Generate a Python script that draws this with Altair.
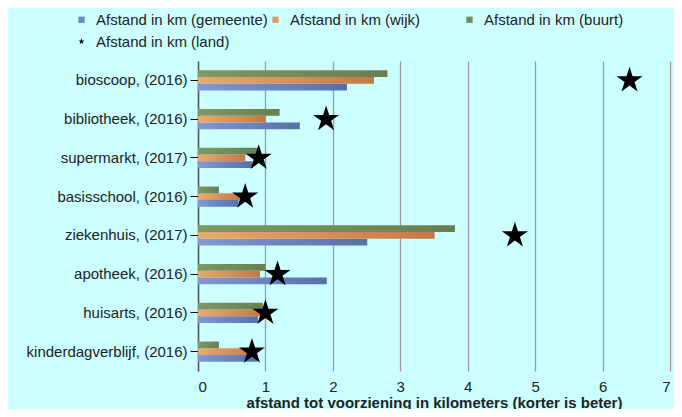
import altair as alt
import pandas as pd

categories = ["bioscoop, (2016)", "bibliotheek, (2016)", "supermarkt, (2017)",
              "basisschool, (2016)", "ziekenhuis, (2017)", "apotheek, (2016)",
              "huisarts, (2016)", "kinderdagverblijf, (2016)"]
gemeente = [2.21, 1.51, 0.81, 0.60, 2.51, 1.91, 0.89, 0.88]
wijk = [2.61, 1.00, 0.70, 0.62, 3.51, 0.92, 0.92, 0.88]
buurt = [2.81, 1.21, 0.89, 0.31, 3.81, 1.00, 0.96, 0.31]
land = [6.40, 1.90, 0.90, 0.70, 4.70, 1.18, 1.00, 0.80]

series = ["Afstand in km (gemeente)", "Afstand in km (wijk)",
          "Afstand in km (buurt)", "Afstand in km (land)"]
flat_colors = ["#6f86c2", "#dc9a5e", "#758d5c", "#000000"]
x_ticks = [0, 1, 2, 3, 4, 5, 6, 7]

rows = []
for name, vals in zip(series, [gemeente, wijk, buurt, land]):
    for c, v in zip(categories, vals):
        rows.append({"cat": c, "series": name, "value": v})
df = pd.DataFrame(rows)

STAR = ("M0,-1L0.2245,-0.309L0.951,-0.309L0.363,0.118L0.588,0.809L0,0.382"
        "L-0.588,0.809L-0.363,0.118L-0.951,-0.309L-0.2245,-0.309Z")

FONT = "Liberation Sans"

y_enc = alt.Y("cat:N", sort=categories,
              scale=alt.Scale(paddingInner=0.48, paddingOuter=0.24),
              axis=alt.Axis(title=None, labelFontSize=15, labelColor="#222222",
                            labelFont=FONT, tickColor="#111111", tickSize=8,
                            domainColor="#555555", domainWidth=1.5, grid=False,
                            labelPadding=3))
x_enc = alt.X("value:Q", scale=alt.Scale(domain=[0, 7], nice=False),
              axis=alt.Axis(values=x_ticks, grid=True, gridColor="#9a9a9a",
                            gridWidth=1.3, domain=False, ticks=False,
                            labelFontSize=15, labelColor="#222222", labelFont=FONT,
                            labelPadding=8,
                            title="afstand tot voorziening in kilometers (korter is beter)",
                            titleFont=FONT, titleFontSize=15,
                            titleFontWeight="bold", titleColor="#222222",
                            titlePadding=1))
yoff_enc = alt.YOffset("series:N",
                       scale=alt.Scale(domain=[series[2], series[1], series[0]]))


def grad(c1, c2):
    return {"gradient": "linear", "x1": 0, "x2": 1, "y1": 0, "y2": 0,
            "stops": [{"offset": 0, "color": c1}, {"offset": 1, "color": c2}]}


grads = [grad("#8298d2", "#5670a8"), grad("#e6ab6c", "#c67846"),
         grad("#7e9866", "#697e50")]

base = alt.Chart(df)
bar_layers = []
for s, g in zip(series[:3], grads):
    bar_layers.append(
        base.transform_filter(alt.datum.series == s)
        .mark_bar(color=g, height={"band": 1})
        .encode(x=x_enc, y=y_enc, yOffset=yoff_enc)
    )

points = base.transform_filter(alt.datum.series == series[3]).mark_point(
    filled=True, size=750, opacity=1
).encode(
    x=x_enc, y=y_enc,
    color=alt.Color("series:N", scale=alt.Scale(domain=series, range=flat_colors),
                    legend=alt.Legend(title=None, orient="none", legendX=-124,
                                      legendY=-49, columns=3, direction="horizontal",
                                      gridAlign="all", labelLimit=0,
                                      columnPadding=-5, rowPadding=6,
                                      values=series,
                                      symbolSize=40, labelFontSize=15,
                                      labelFont=FONT, labelColor="#222222",
                                      labelOffset=7, symbolStrokeWidth=0)),
    shape=alt.Shape("series:N", scale=alt.Scale(domain=series,
                                                range=["square", "square", "square", STAR])),
)

chart = alt.layer(*bar_layers, points).properties(
    width=472, height=310, background="#ccffff",
    padding={"left": 190, "top": 53, "right": 4, "bottom": 38},
    autosize=alt.AutoSizeParams(type="none"),
).configure_view(stroke=None)

chart.save("out.html", embed_options={"renderer": "svg", "actions": False})
